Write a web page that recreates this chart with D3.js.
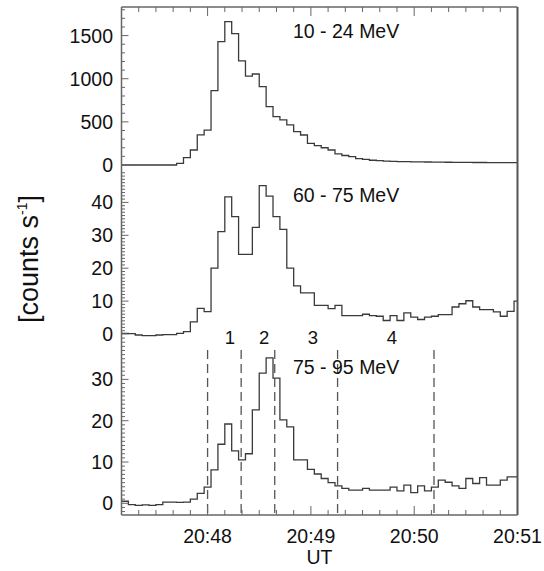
<!DOCTYPE html>
<html>
<head>
<meta charset="utf-8">
<script src="https://cdn.jsdelivr.net/npm/d3@7/dist/d3.min.js"></script>
<style>
  body { margin: 0; background: #fff; }
  svg { display: block; }
  text { font-family: "Liberation Sans", Arial, Helvetica, sans-serif; fill: #111; }
</style>
</head>
<body>
<svg id="chart" width="544" height="571"></svg>
<script>
// Time is in seconds after 20:00:00 UT; 4 s accumulation bins starting at 20:47:10.
const timeStart = 2830;   // 20:47:10
const timeEnd = 3060;     // 20:51:00
const binSeconds = 4;

// Count rates per energy channel [counts s^-1], one value per 4 s bin.
const counts10to24 = [0, 0, 0, 0, 0, 0, 0, 0, 19, 85,
  174, 350, 405, 862, 1430, 1662, 1524, 1206, 1030, 1055,
  908, 677, 560, 522, 464, 387, 348, 251, 224, 200,
  174, 128, 110, 97, 75, 66, 55, 50, 45, 42,
  40, 38, 37, 36, 35, 34, 33, 32, 31, 30,
  30, 29, 29, 28, 28, 28, 27, 27];

const counts60to75 = [0.2, 0.1, -0.3, -0.5, -0.5, -0.3, -0.2, -0.2, 0.2, 0.7,
  3.7, 7.8, 6.8, 20, 31.1, 41.7, 35.7, 24.2, 24.2, 32.4,
  45.1, 41.9, 35.7, 31.8, 20, 14.6, 12.5, 12.5, 8.7, 8.7,
  7.7, 8.7, 5.6, 5.6, 5.6, 6.0, 5.6, 5.4, 4.1, 5.6,
  4.1, 6.4, 5.1, 4.4, 5.1, 5.4, 5.9, 5.9, 8.2, 9.2,
  10.1, 8.2, 7.4, 7.4, 6.7, 5.4, 6.9, 10];

const counts75to95 = [0.5, -0.3, -0.5, -0.4, -0.5, -0.3, 0.3, 0.3, 0.2, 0.3,
  1.0, 2.4, 3.9, 8.1, 14.3, 19.2, 12.7, 10.5, 12, 22.6,
  31.5, 35.2, 30.3, 20.2, 18.5, 10.5, 10.5, 8.2, 7.1, 6.0,
  5.0, 4.2, 3.6, 3.2, 3.2, 3.6, 3.2, 3.2, 3.2, 3.9,
  3.0, 4.4, 2.6, 4.2, 3.0, 3.9, 5.6, 5.1, 4.2, 3.6,
  6.0, 4.8, 6.2, 4.4, 4.4, 5.6, 6.4, 6.4];

const channelLabels = ["10 - 24 MeV", "60 - 75 MeV", "75 - 95 MeV"];

// Y tick labels per panel
const yTickLabels1 = [0, 500, 1000, 1500];
const yTickLabels2 = [0, 10, 20, 30, 40];
const yTickLabels3 = [0, 10, 20, 30];

// X axis
const xTickTimes = [2880, 2940, 3000, 3060];
const xTickLabels = ["20:48", "20:49", "20:50", "20:51"];

// Phase boundaries (dashed) and phase numbers, in seconds after 20:00:00
const phaseBoundaries = [2880, 2899.5, 2919, 2955.5, 3011.5];
const phaseNames = ["1", "2", "3", "4"];
const phaseLabelTimes = [2893, 2912.8, 2941.2, 2987.1];

(function draw() {
  const svg = d3.select("#chart");
  const xL = 121.5, xR = 517.5, yT = 7, yB = 515;

  const x = d3.scaleLinear().domain([timeStart, timeEnd]).range([xL, xR]);

  const panels = [
    { values: counts10to24, y: d3.scaleLinear().domain([0, 1500]).range([165, 35.6]),
      y0: yT, y1: 171, labels: yTickLabels1, minorStep: 100, minorRange: [0, 1800], label: channelLabels[0], labelY: 38 },
    { values: counts60to75, y: d3.scaleLinear().domain([0, 40]).range([334, 202.4]),
      y0: 171, y1: 337, labels: yTickLabels2, minorStep: 1, minorRange: [0, 49], label: channelLabels[1], labelY: 202 },
    { values: counts75to95, y: d3.scaleLinear().domain([0, 30]).range([503.3, 379.4]),
      y0: 337, y1: yB, labels: yTickLabels3, minorStep: 1, minorRange: [-2, 40], label: channelLabels[2], labelY: 374 }
  ];

  const axisColor = "#666";
  const lineColor = "#3a3a3a";

  // dashed phase boundaries in the lowest panel
  svg.append("g").selectAll("line").data(phaseBoundaries).join("line")
    .attr("x1", d => x(d)).attr("x2", d => x(d))
    .attr("y1", 350).attr("y2", yB)
    .attr("stroke", "#555").attr("stroke-width", 1.3).attr("stroke-dasharray", "9,5");

  panels.forEach((p, i) => {
    const clipId = "clip" + i;
    svg.append("clipPath").attr("id", clipId)
      .append("rect").attr("x", xL).attr("y", p.y0).attr("width", xR - xL).attr("height", p.y1 - p.y0);

    // step histogram
    const pts = p.values.map((v, k) => [timeStart + k * binSeconds, v]);
    pts.push([timeStart + p.values.length * binSeconds, p.values[p.values.length - 1]]);
    const line = d3.line().x(d => x(d[0])).y(d => p.y(d[1])).curve(d3.curveStepAfter);
    svg.append("path").attr("d", line(pts)).attr("clip-path", `url(#${clipId})`)
      .attr("fill", "none").attr("stroke", lineColor).attr("stroke-width", 1.3);

    // left axis ticks, minor and major
    const g = svg.append("g");
    const minor = d3.range(p.minorRange[0], p.minorRange[1] + p.minorStep / 2, p.minorStep);
    g.selectAll("line").data(minor).join("line")
      .attr("x1", xL).attr("x2", d => p.labels.includes(d) ? xL + 7 : xL + 3.5)
      .attr("y1", d => p.y(d)).attr("y2", d => p.y(d))
      .attr("stroke", axisColor).attr("stroke-width", 1);

    g.selectAll("text").data(p.labels).join("text")
      .attr("x", 113).attr("y", d => p.y(d)).attr("dy", "0.36em")
      .attr("text-anchor", "end").attr("font-size", 19.5).text(d => d);

    svg.append("text").attr("x", 293).attr("y", p.labelY)
      .attr("font-size", 19.5).text(p.label);
  });

  // bottom and top axis ticks: minor every 10 s, major every minute
  const tickTimes = d3.range(2840, timeEnd + 1, 10);
  svg.append("g").selectAll("line").data(tickTimes).join("line")
    .attr("x1", d => x(d)).attr("x2", d => x(d))
    .attr("y1", yB).attr("y2", d => d % 60 === 0 ? yB - 9 : yB - 5)
    .attr("stroke", axisColor).attr("stroke-width", 1);
  svg.append("g").selectAll("line").data(tickTimes).join("line")
    .attr("x1", d => x(d)).attr("x2", d => x(d))
    .attr("y1", yT).attr("y2", d => d % 60 === 0 ? yT + 9 : yT + 5)
    .attr("stroke", axisColor).attr("stroke-width", 1);

  svg.append("g").selectAll("text").data(xTickTimes).join("text")
    .attr("x", d => x(d)).attr("y", 543).attr("text-anchor", "middle")
    .attr("font-size", 19.5).text((d, i) => xTickLabels[i]);

  svg.append("text").attr("x", (xL + xR) / 2).attr("y", 564)
    .attr("text-anchor", "middle").attr("font-size", 19.5).text("UT");

  svg.append("g").selectAll("text").data(phaseLabelTimes).join("text")
    .attr("x", d => x(d)).attr("y", 344).attr("text-anchor", "middle")
    .attr("font-size", 18.5).text((d, i) => phaseNames[i]);

  // frame
  svg.append("line").attr("x1", xL).attr("x2", xL).attr("y1", yT).attr("y2", yB)
    .attr("stroke", axisColor).attr("stroke-width", 1.5);
  svg.append("line").attr("x1", xR).attr("x2", xR).attr("y1", yT).attr("y2", yB)
    .attr("stroke", "#555").attr("stroke-width", 2);
  svg.append("line").attr("x1", xL).attr("x2", xR).attr("y1", yT).attr("y2", yT)
    .attr("stroke", axisColor).attr("stroke-width", 1.5);
  svg.append("line").attr("x1", xL).attr("x2", xR).attr("y1", yB).attr("y2", yB)
    .attr("stroke", axisColor).attr("stroke-width", 1.5);

  // y axis title
  const title = svg.append("text")
    .attr("transform", "translate(38,259) rotate(-90)")
    .attr("text-anchor", "middle").attr("font-size", 27);
  title.append("tspan").text("[counts s");
  title.append("tspan").attr("font-size", 14).attr("dy", -11).text("-1");
  title.append("tspan").attr("dy", 11).text("]");
})();
</script>
</body>
</html>
